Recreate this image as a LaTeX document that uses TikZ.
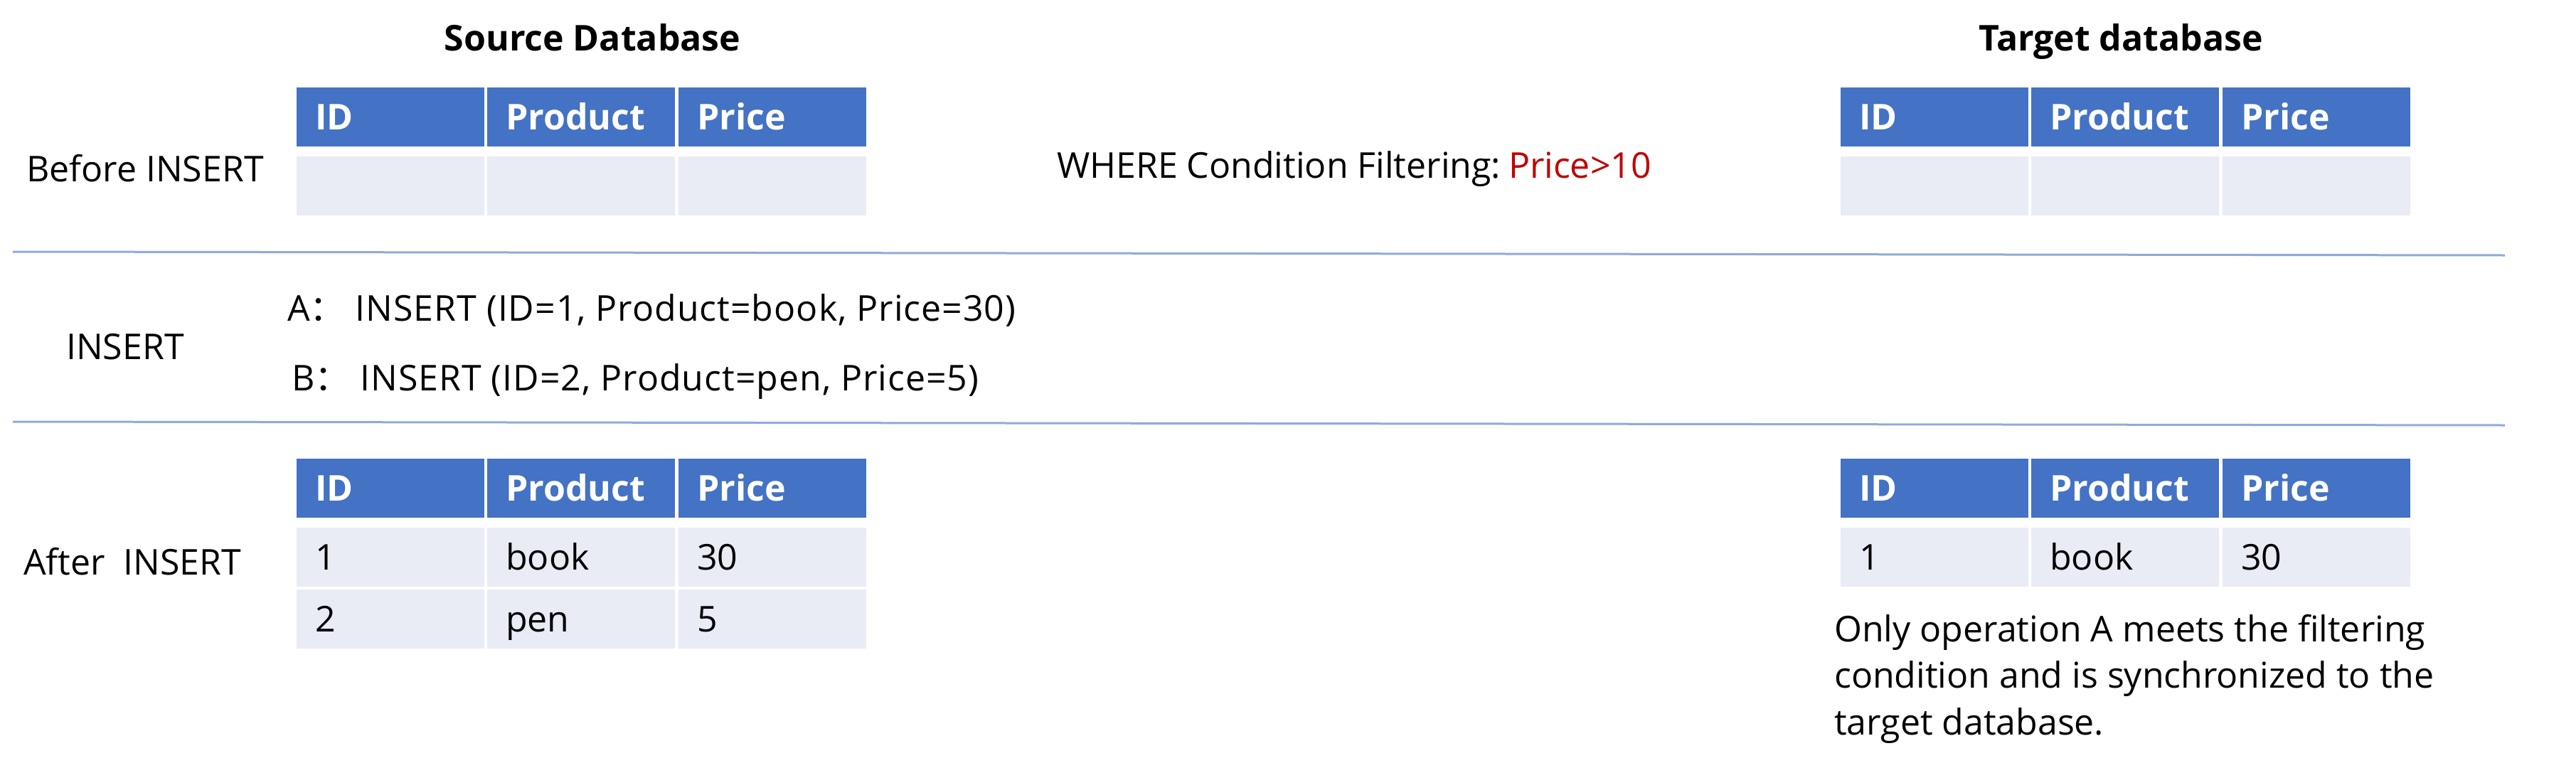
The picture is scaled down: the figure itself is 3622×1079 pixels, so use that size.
\documentclass[tikz,border=0pt]{standalone}
\usepackage{fontspec}
\setmainfont{Open Sans}
\newfontfamily\cjk{Noto Sans CJK SC}
\definecolor{hblue}{HTML}{4472C4}
\definecolor{rowfill}{HTML}{E9EBF5}
\definecolor{sepblue}{HTML}{8FAADC}
\definecolor{condred}{HTML}{C00000}
\newcommand\trow[7]{%
  \node[#4] (#1a) at (#2,#3) {#5};
  \node[#4] (#1b) at ({#2+268},#3) {#6};
  \node[#4] (#1c) at ({#2+537},#3) {#7};
}
\begin{document}
\begin{tikzpicture}[x=1pt,y=-1pt,
  txt/.style={anchor=base west, inner sep=0pt, font=\fontsize{50}{62}\selectfont},
  optxt/.style={anchor=base west, inner sep=0pt, font=\fontsize{50}{62}\selectfont\addfontfeature{LetterSpace=2}},
  ttl/.style={anchor=base, inner sep=0pt, font=\fontsize{50}{62}\selectfont\bfseries},
  cellbase/.style={anchor=north west, inner xsep=26pt, inner ysep=0pt, text width=212pt, align=left,
    minimum height=83pt, text height=36pt, text depth=0pt},
  hdr/.style={cellbase, fill=hblue, text=white, font=\fontsize{50}{62}\selectfont\bfseries},
  dat/.style={cellbase, fill=rowfill, font=\fontsize{50}{62}\selectfont},
  sepline/.style={draw=sepblue, line width=3pt}]
\useasboundingbox (0,0) rectangle (3622,1079);

% titles
\node[ttl] (srctitle) at (833,71) {Source Database};
\node[ttl] (tgttitle) at (2982,71) {Target database};

% before
\node[txt] (before) at (37,255) {Before INSERT};
\trow{sbh}{417}{123}{hdr}{ID}{Product}{Price}
\trow{sbr}{417}{220}{dat}{}{}{}
\node[txt] (where) at (1486,250) {WHERE Condition Filtering:\hspace{11pt}\textcolor{condred}{Price>10}};
\trow{tbh}{2588}{123}{hdr}{ID}{Product}{Price}
\trow{tbr}{2588}{220}{dat}{}{}{}

% separators
\coordinate (s1l) at (18,354);
\coordinate (s1r) at (3522,359);
\coordinate (s2l) at (18,593);
\coordinate (s2r) at (3522,598);
\draw[sepline] (s1l) -- (s1r);
\draw[sepline] (s2l) -- (s2r);

% insert
\node[txt] (ins) at (93,505) {INSERT};
\node[optxt] (opa) at (404,451) {A{\cjk ：}\ INSERT (ID=1, Product=book, Price=30)};
\node[optxt] (opb) at (410,549) {B{\cjk ：}\ INSERT (ID=2, Product=pen, Price=5)};

% after
\node[txt] (after) at (33,808) {After\ \ INSERT};
\trow{sah}{417}{645}{hdr}{ID}{Product}{Price}
\trow{sar}{417}{742}{dat}{1}{book}{30}
\trow{sas}{417}{829}{dat}{2}{pen}{5}
\trow{tah}{2588}{645}{hdr}{ID}{Product}{Price}
\trow{tar}{2588}{742}{dat}{1}{book}{30}

\node[txt] (note1) at (2579,902) {Only operation A meets the filtering};
\node[txt] (note2) at (2579,967) {condition and is synchronized to the};
\node[txt] (note3) at (2579,1033) {target database.};
\end{tikzpicture}
\end{document}
